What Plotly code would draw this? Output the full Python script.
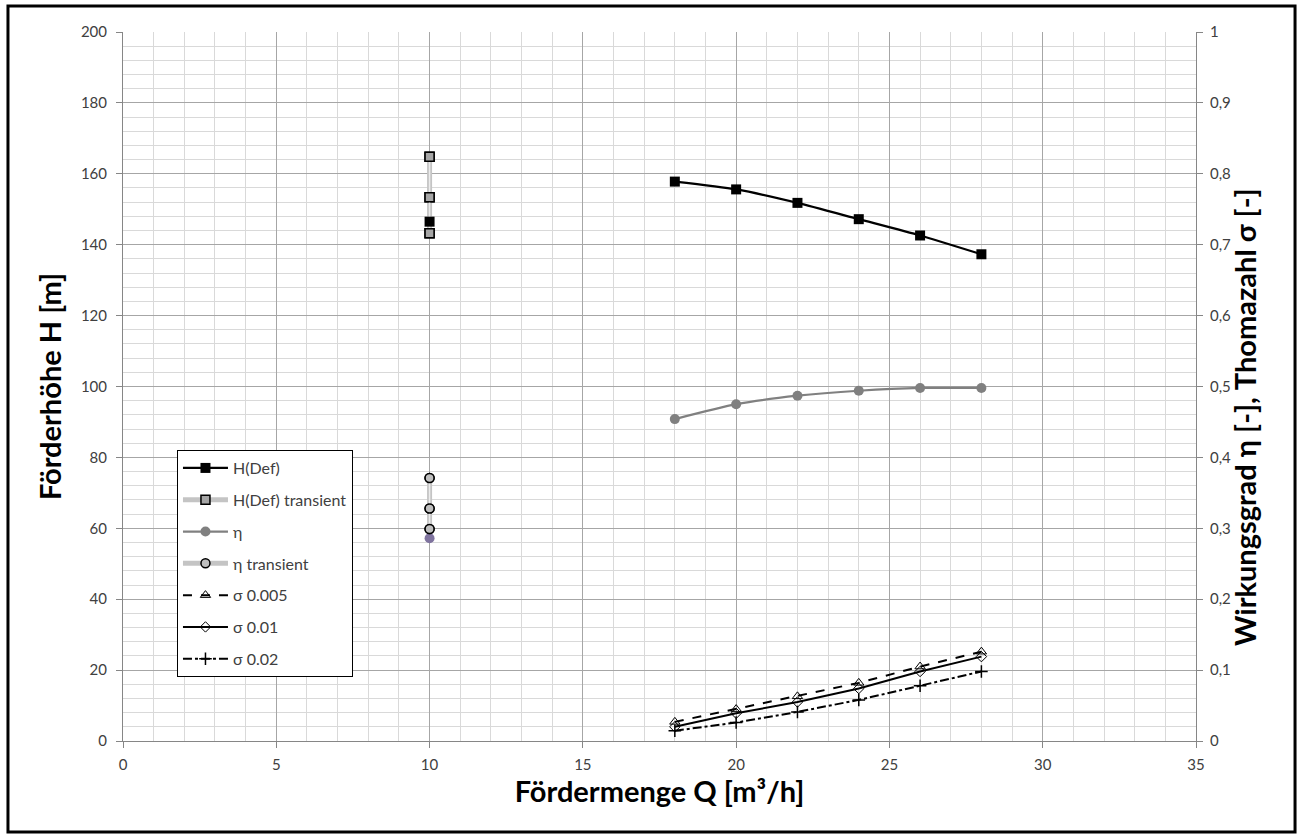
import plotly.graph_objects as go

# Steady-state operating points
q = [18, 20, 22, 24, 26, 28]
h_def = [157.8, 155.6, 151.8, 147.2, 142.6, 137.3]
eta = [0.454, 0.475, 0.487, 0.494, 0.498, 0.498]
sigma_005 = [0.027, 0.045, 0.063, 0.082, 0.105, 0.126]
sigma_01 = [0.020, 0.039, 0.055, 0.074, 0.098, 0.119]
sigma_02 = [0.0145, 0.026, 0.041, 0.058, 0.078, 0.098]

# Transient measurements at Q = 10
q_tr = [10, 10, 10]
h_tr = [164.8, 153.4, 143.2]
eta_tr = [0.371, 0.328, 0.299]

# Single steady-state values at Q = 10
q_single = [10]
h_single = [146.5]
eta_single = [0.286]

FONT = "Lato"
TXT = "#404040"
GRID_MAJ = "#a6a6a6"
GRID_MIN = "#d9d9d9"
AX = "#868686"
TITLE_SIZE = 29

fig = go.Figure()

# H transient (double grey line)
fig.add_trace(go.Scatter(
    x=q_tr, y=h_tr, name="H(Def) transient", mode="lines+markers",
    line=dict(color="#c4c4c4", width=5),
    marker=dict(symbol="square", size=9, color="#a6a6a6", line=dict(color="#000000", width=1.5)),
    legendgroup="g2", legendrank=2))
fig.add_trace(go.Scatter(
    x=q_tr, y=h_tr, mode="lines", line=dict(color="#ececec", width=1.5),
    showlegend=False, hoverinfo="skip"))

# H(Def)
fig.add_trace(go.Scatter(
    x=q, y=h_def, name="H(Def)", mode="lines+markers",
    line=dict(color="#000000", width=2.25, shape="spline", smoothing=0.6),
    marker=dict(symbol="square", size=10, color="#000000"),
    legendgroup="g1", legendrank=1))
fig.add_trace(go.Scatter(
    x=q_single, y=h_single, mode="markers", showlegend=False,
    marker=dict(symbol="square", size=10, color="#000000")))
fig.add_trace(go.Scatter(
    x=q_tr, y=h_tr, mode="markers", showlegend=False, hoverinfo="skip",
    marker=dict(symbol="square", size=9, color="#a6a6a6", line=dict(color="#000000", width=1.5))))

# Efficiency and Thoma numbers on the right axis
fig.add_trace(go.Scatter(
    x=q, y=eta, name="η", mode="lines+markers", yaxis="y2",
    line=dict(color="#808080", width=2.25, shape="spline", smoothing=0.6),
    marker=dict(symbol="circle", size=10, color="#808080"),
    legendgroup="g3", legendrank=3))
fig.add_trace(go.Scatter(
    x=q_single, y=eta_single, mode="markers", yaxis="y2", showlegend=False,
    marker=dict(symbol="circle", size=10, color="#7f739e")))
fig.add_trace(go.Scatter(
    x=q_tr, y=eta_tr, name="η transient", mode="lines+markers", yaxis="y2",
    line=dict(color="#c4c4c4", width=5),
    marker=dict(symbol="circle", size=9, color="#bfbfbf", line=dict(color="#000000", width=1.5)),
    legendgroup="g4", legendrank=4))
fig.add_trace(go.Scatter(
    x=q_tr, y=eta_tr, mode="lines", yaxis="y2", line=dict(color="#ececec", width=1.5),
    showlegend=False, hoverinfo="skip"))
fig.add_trace(go.Scatter(
    x=q_tr, y=eta_tr, mode="markers", yaxis="y2", showlegend=False, hoverinfo="skip",
    marker=dict(symbol="circle", size=9, color="#bfbfbf", line=dict(color="#000000", width=1.5))))

fig.add_trace(go.Scatter(
    x=q, y=sigma_005, name="σ 0.005", mode="lines+markers", yaxis="y2",
    line=dict(color="#000000", width=2, dash="dash"),
    marker=dict(symbol="triangle-up-open", size=9, color="#000000", line=dict(width=1)),
    legendgroup="g5", legendrank=5))
fig.add_trace(go.Scatter(
    x=q, y=sigma_01, name="σ 0.01", mode="lines+markers", yaxis="y2",
    line=dict(color="#000000", width=2),
    marker=dict(symbol="diamond-open", size=8, color="#000000", line=dict(width=1)),
    legendgroup="g6", legendrank=6))
fig.add_trace(go.Scatter(
    x=q, y=sigma_02, name="σ 0.02", mode="lines+markers", yaxis="y2",
    line=dict(color="#000000", width=2, dash="dashdot"),
    marker=dict(symbol="cross-thin", size=9, color="#000000", line=dict(width=1.5, color="#000000")),
    legendgroup="g7", legendrank=7))

fig.update_layout(
    width=1302, height=835,
    margin=dict(l=123, r=106, t=32, b=94),
    paper_bgcolor="white", plot_bgcolor="white",
    separators=",.",
    font=dict(family=FONT, size=15, color=TXT),
    showlegend=True,
    legend=dict(
        x=0.0503, y=0.4104, xanchor="left", yanchor="top",
        bgcolor="white", bordercolor="#000000", borderwidth=1,
        font=dict(family=FONT, size=16, color=TXT),
        tracegroupgap=8, itemwidth=45,
        traceorder="grouped"),
    xaxis=dict(
        range=[0, 35], dtick=5, tick0=0,
        showgrid=True, gridcolor=GRID_MAJ, gridwidth=1,
        minor=dict(dtick=1, showgrid=True, gridcolor=GRID_MIN, gridwidth=1),
        showline=True, linecolor=AX, linewidth=1,
        ticks="outside", ticklen=6, tickcolor=AX, ticklabelstandoff=4,
        zeroline=False,
        title=dict(text="<b>Fördermenge Q [m³/h]</b>", font=dict(family=FONT, size=TITLE_SIZE, color="#000000"), standoff=6),
    ),
    yaxis=dict(
        range=[0, 200], dtick=20, tick0=0,
        showgrid=True, gridcolor=GRID_MAJ, gridwidth=1,
        minor=dict(dtick=4, showgrid=True, gridcolor=GRID_MIN, gridwidth=1),
        showline=True, linecolor=AX, linewidth=1,
        ticks="outside", ticklen=6, tickcolor=AX, ticklabelstandoff=6,
        zeroline=False,
        title=dict(text="<b>Förderhöhe H [m]</b>", font=dict(family=FONT, size=TITLE_SIZE, color="#000000"), standoff=10),
    ),
    yaxis2=dict(
        range=[0, 1], dtick=0.1, tick0=0, overlaying="y", side="right",
        showgrid=False, zeroline=False,
        showline=True, linecolor=AX, linewidth=1,
        ticks="outside", ticklen=6, tickcolor=AX, ticklabelstandoff=4,
    ),
    annotations=[dict(
        text="<b>Wirkungsgrad η [-], Thomazahl σ [-]</b>",
        xref="paper", yref="paper", x=1.0457, y=0.457,
        xanchor="center", yanchor="middle", textangle=-90, showarrow=False,
        font=dict(family=FONT, size=TITLE_SIZE, color="#000000"))],
)

# Outer chart frame
fig.add_shape(type="rect", xref="paper", yref="paper",
              x0=-0.1072, x1=1.0923, y0=-0.1283, y1=1.0367,
              line=dict(color="#000000", width=3), layer="above")

fig.write_html("out.html")
